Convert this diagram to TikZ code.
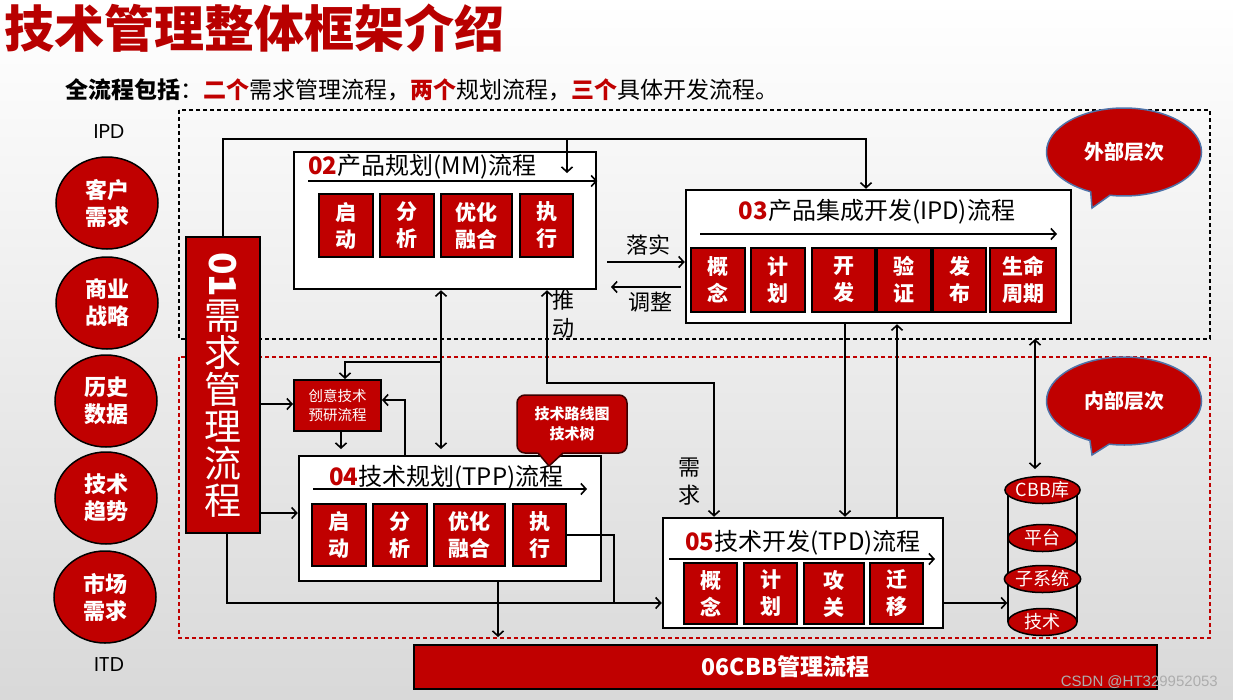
\documentclass[tikz,border=0pt]{standalone}
\usepackage{fontspec}
\setmainfont{Noto Sans CJK SC}
\newfontfamily\lat{Poppins}
\newfontfamily\wm{Liberation Sans}
\usetikzlibrary{arrows.meta,shapes.geometric,shapes.callouts}
\definecolor{myred}{HTML}{C00000}
\definecolor{titlered}{HTML}{B80000}
\definecolor{bubble}{HTML}{4F72A8}
\newcommand\fsz[2]{\fontsize{#1}{#2}\selectfont}
\begin{document}
\begin{tikzpicture}[x=1pt,y=-1pt,
  conn/.style={line width=1.6pt, draw=black},
  arr/.style={conn, -{Straight Barb[length=5pt,width=11pt]}},
  arrtwo/.style={conn, {Straight Barb[length=5pt,width=11pt]}-{Straight Barb[length=5pt,width=11pt]}},
  whitebox/.style={draw=black, line width=2.5pt, fill=white, inner sep=0},
  redbox/.style={draw=black, line width=2pt, fill=myred, text=white, font=\bfseries\fsz{21}{27}, align=center, inner sep=0},
  ttl/.style={inner sep=0, font=\fsz{24}{26}},
  src/.style={ellipse, draw=black, line width=1.5pt, fill=myred, minimum width=102, minimum height=92, inner sep=0, text=white, font=\bfseries\fsz{22}{27}, align=center},
  cyl/.style={ellipse, draw=black, line width=1.5pt, fill=myred, minimum width=69, minimum height=27, inner sep=0, text=white, font=\fsz{18}{18}},
  bub/.style={ellipse callout, draw=bubble, line width=1.5pt, fill=myred, minimum width=155, minimum height=88, text=white, font=\bfseries\fsz{20}{24}},
  dashbox/.style={line width=1.5pt, dash pattern=on 4pt off 3pt},
  lbl/.style={inner sep=0, font=\fsz{22}{28}, align=center}
]
\useasboundingbox (0,0) rectangle (1233,699);
\shade[top color=white, bottom color=black!15] (0,0) rectangle (1233,699);

% title and subtitle
\node[anchor=west, inner sep=0, text=titlered, font=\bfseries\fsz{50}{52}] (title) at (4,28) {技术管理整体框架介绍};
\node[anchor=west, inner sep=0, font=\fsz{23}{26}] (sub) at (65,90) {\textbf{全流程包括}：\textcolor{myred}{\textbf{二个}}需求管理流程，\textcolor{myred}{\textbf{两个}}规划流程，\textcolor{myred}{\textbf{三个}}具体开发流程。};

% layers
\draw[dashbox, draw=black] (179,110) rectangle (1210,339);
\draw[dashbox, draw=myred] (179,357) rectangle (1210,638);

% left sources
\node[font=\lat\fsz{20}{20}] (ipd) at (109,132) {IPD};
\node[font=\lat\fsz{20}{20}] (itd) at (109,665) {ITD};
\node[src] (c1) at (107,203) {客户\\需求};
\node[src] (c2) at (107,303) {商业\\战略};
\node[src] (c3) at (106,401) {历史\\数据};
\node[src] (c4) at (106,498) {技术\\趋势};
\node[src] (c5) at (105,597) {市场\\需求};

% 01
\node[draw=black, line width=2pt, fill=myred, minimum width=74, minimum height=296, inner sep=0, text=white, align=center, font=\fsz{37}{37}] (b01) at (223,385) {\rotatebox{-90}{\bfseries 01}\\[2pt]需\\求\\管\\理\\流\\程};

% 02
\node[whitebox, minimum width=302, minimum height=137] (b02) at (445,220.5) {};
\node[ttl, anchor=west] (t02) at (308,167) {\textcolor{myred}{\bfseries 02}产品规划(MM)流程};
\draw[arr] (308,181) -- (b02.east |- 0,181);
\node[redbox, minimum width=54, minimum height=63] (m1) at (346,225.5) {启\\动};
\node[redbox, minimum width=54, minimum height=63] (m2) at (407,225.5) {分\\析};
\node[redbox, minimum width=71, minimum height=63] (m3) at (476.5,225.5) {优化\\融合};
\node[redbox, minimum width=53, minimum height=63] (m4) at (546.5,225.5) {执\\行};

% 03
\node[whitebox, minimum width=385, minimum height=133] (b03) at (878.5,256.5) {};
\node[ttl] (t03) at (877,212) {\textcolor{myred}{\bfseries 03}产品集成开发(IPD)流程};
\draw[arr] (700,234) -- (1057,234);
\node[redbox, minimum width=54, minimum height=64] (p1) at (718,280) {概\\念};
\node[redbox, minimum width=54, minimum height=64] (p2) at (778,280) {计\\划};
\node[redbox, minimum width=63, minimum height=64] (p3) at (843.5,280) {开\\发};
\node[redbox, minimum width=54, minimum height=64] (p4) at (904,280) {验\\证};
\node[redbox, minimum width=53, minimum height=64] (p5) at (959.5,280) {发\\布};
\node[redbox, minimum width=66, minimum height=64] (p6) at (1023,280) {生命\\周期};

% 创意技术
\node[draw=black, line width=2pt, fill=myred, minimum width=87, minimum height=51, inner sep=0, text=white, font=\fsz{14.5}{19}, align=center] (cy) at (337.5,405.5) {创意技术\\预研流程};

% 04
\node[whitebox, minimum width=302, minimum height=125] (b04) at (450,518.5) {};
\node[ttl, anchor=west] (t04) at (329,478) {\textcolor{myred}{\bfseries 04}技术规划(TPP)流程};
\draw[arr] (313,489) -- (587,489);
\node[redbox, minimum width=54, minimum height=62] (q1) at (339,535) {启\\动};
\node[redbox, minimum width=54, minimum height=62] (q2) at (400,535) {分\\析};
\node[redbox, minimum width=71, minimum height=62] (q3) at (469.5,535) {优化\\融合};
\node[redbox, minimum width=53, minimum height=62] (q4) at (539.5,535) {执\\行};

% 05
\node[whitebox, minimum width=280, minimum height=110] (b05) at (803,573) {};
\node[ttl, anchor=west] (t05) at (685,543) {\textcolor{myred}{\bfseries 05}技术开发(TPD)流程};
\draw[arr] (669,559) -- (935,559);
\node[redbox, minimum width=53, minimum height=61] (r1) at (710.5,593.5) {概\\念};
\node[redbox, minimum width=53, minimum height=61] (r2) at (770.5,593.5) {计\\划};
\node[redbox, minimum width=60, minimum height=61] (r3) at (834,593.5) {攻\\关};
\node[redbox, minimum width=53, minimum height=61] (r4) at (896.5,593.5) {迁\\移};

% 06
\node[draw=black, line width=2pt, fill=myred, minimum width=743, minimum height=44, inner sep=0, text=white, font=\bfseries\fsz{23}{26}] (b06) at (785.5,667) {06CBB管理流程};

% roadmap callout
\node[draw=black!70!myred, line width=1.5pt, fill=myred, rounded corners=8pt, minimum width=110, minimum height=58, inner sep=0, text=white, font=\bfseries\fsz{15}{20}, align=center] (rm) at (572,424) {技术路线图\\技术树};
\fill[myred] (537,450) -- (538,454) -- (549,466) -- (563,454) -- (564,450) -- cycle;
\draw[line width=1.5pt, draw=black!70!myred] (538,453) -- (549,466) -- (563,453);

% speech bubbles
\node[bub, callout absolute pointer={(1092,208)}] (ext) at (1124,152) {外部层次};
\node[bub, callout absolute pointer={(1092,455)}] (int) at (1124,401) {内部层次};

% CBB cylinder
\draw[line width=1.5pt] (1008,490) -- (1008,622);
\draw[line width=1.5pt] (1077,490) -- (1077,622);
\node[cyl] (k1) at (1042.5,490) {CBB库};
\node[cyl] (k2) at (1042.5,538) {平台};
\node[cyl] (k3) at (1042.5,579) {子系统};
\node[cyl] (k4) at (1042.5,622) {技术};

% connectors
\draw[arr] (b01.north) |- (866,139) -- (b03.north -| 866,0);
\draw[arr] (567,139) -- (567,173);
\draw[arr] (607,262) -- (b03.west |- 0,262);
\node[lbl] (lsh) at (648,245) {落实};
\draw[arr] (681,287) -- (611,287);
\node[lbl] (ltz) at (650,302) {调整};
\draw[arrtwo] (b02.south -| 441,0) -- (441,449);
\draw[arr] (441,362) -| (cy.north -| 345,0);
\draw[arr] (cy.south -| 341,0) -- (341,449);
\draw[arr] (b04.north -| 405,0) |- (cy.east |- 0,400);
\draw[arr] (b01.east |- 0,404) -- (cy.west |- 0,404);
\draw[arr] (b01.east |- 0,513) -- (b04.west |- 0,513);
\draw[arr] (b01.south -| 227,0) |- (b05.west |- 0,603);
\draw[conn] (q4.east) -| (614,603);
\draw[arr] (b04.south -| 498,0) -- (498,637);
\draw[arrtwo] (b02.south -| 547,0) |- (714,383) -- (b05.north -| 714,0);
\node[lbl] (ltd) at (563,314) {推\\动};
\node[lbl] (lxq) at (689,482) {需\\求};
\draw[arr] (b03.south -| 845,0) -- (b05.north -| 845,0);
\draw[arr] (b05.north -| 897,0) -- (b03.south -| 897,0);
\draw[arrtwo] (1035,339) -- (1035,469);
\draw[arr] (b05.east |- 0,603) -- (k4.west |- 0,603);

% watermark
\node[anchor=east, inner sep=0, text=black!32, font=\wm\fsz{15}{15}] (wmk) at (1218,682) {CSDN @HT329952053};
\end{tikzpicture}
\end{document}
